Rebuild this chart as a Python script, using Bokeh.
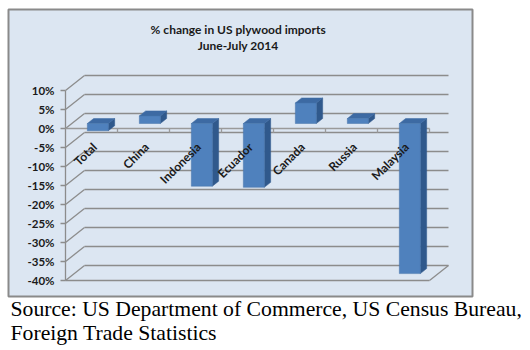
from bokeh.plotting import figure
from bokeh.models import Range1d
from bokeh.core.properties import value
from bokeh.embed import file_html
from bokeh.resources import INLINE

# ---------------- data ----------------
title_lines = ["% change in US plywood imports", "June-July 2014"]
categories = ["Total", "China", "Indonesia", "Ecuador", "Canada", "Russia", "Malaysia"]
pct_change = [-1.9, 2.0, -16.5, -16.8, 5.4, 1.3, -39.5]
y_ticks = [10, 5, 0, -5, -10, -15, -20, -25, -30, -35, -40]
y_tick_labels = ["10%", "5%", "0%", "-5%", "-10%", "-15%", "-20%", "-25%", "-30%", "-35%", "-40%"]
source_lines = ["Source: US Department of Commerce, US Census Bureau,",
                "Foreign Trade Statistics"]

# ---------------- 3D geometry (data units) ----------------
DX = 19 / 52.0      # depth offset along x (category units)
DY = 15 / 3.8       # depth offset along y (percent units)
HW = 0.202          # half bar width
F1, F2 = 1 / 3.0, 2 / 3.0   # bar depth span (fraction of wall depth)
N = len(categories)
Y_MIN, Y_MAX = min(y_ticks), max(y_ticks)

GRID = "#8C8C8C"
FRONT = "#4F81BD"
SIDE = "#30598C"
TOP = "#3D6AA3"
FONT = value("Lato")

p = figure(width=530, height=350,
           x_range=Range1d(-1.25, 8.9423), y_range=Range1d(-58.42, 33.684),
           output_backend="svg", toolbar_location=None, title=None,
           x_axis_location=None, y_axis_location=None,
           min_border=0, min_border_left=0, min_border_right=0,
           min_border_top=0, min_border_bottom=0,
           background_fill_color="white", border_fill_color="white",
           outline_line_color=None)
p.grid.visible = False

# chart box (plot area background)
p.quad(left=[-1.0962], right=[7.827], bottom=[-44.21], top=[31.316],
       fill_color="#DCE6F2", line_color="#8A8A8A", line_width=2)

# side wall diagonals + back wall gridlines
p.segment(x0=[0] * len(y_ticks), y0=y_ticks,
          x1=[DX] * len(y_ticks), y1=[t + DY for t in y_ticks],
          line_color=GRID, line_width=1.3)
p.segment(x0=[DX] * len(y_ticks), y0=[t + DY for t in y_ticks],
          x1=[N + DX] * len(y_ticks), y1=[t + DY for t in y_ticks],
          line_color=GRID, line_width=1.3)
# floor front edge and right edge
p.segment(x0=[0, N], y0=[Y_MIN, Y_MIN], x1=[N, N + DX], y1=[Y_MIN, Y_MIN + DY],
          line_color=GRID, line_width=1.3)
# value axis line + ticks
p.segment(x0=[0], y0=[Y_MIN], x1=[0], y1=[Y_MAX], line_color=GRID, line_width=1.3)
p.segment(x0=[-5 / 52.0] * len(y_ticks), y0=y_ticks, x1=[0] * len(y_ticks), y1=y_ticks,
          line_color=GRID, line_width=1.3)
# category axis line + ticks
p.segment(x0=[0], y0=[0], x1=[N], y1=[0], line_color="#9A9A9A", line_width=1.3)
p.segment(x0=list(range(1, N + 1)), y0=[0] * N, x1=list(range(1, N + 1)), y1=[-1.1] * N,
          line_color="#9A9A9A", line_width=1.3)

# bars
side_xs, side_ys, top_xs, top_ys = [], [], [], []
fl, fr, fb, ft = [], [], [], []
dd = (F2 - F1) * DX
for i, v in enumerate(pct_change):
    c = i + 0.5
    x0 = c - HW + F1 * DX
    x1 = c + HW + F1 * DX
    side_xs.append([x1, x1 + dd, x1 + dd, x1])
    side_ys.append([F1 * DY, F2 * DY, v + F2 * DY, v + F1 * DY])
    t = max(v, 0)
    top_xs.append([x0, x1, x1 + dd, x0 + dd])
    top_ys.append([t + F1 * DY, t + F1 * DY, t + F2 * DY, t + F2 * DY])
    fl.append(x0); fr.append(x1)
    fb.append(min(v, 0) + F1 * DY); ft.append(max(v, 0) + F1 * DY)

p.patches(side_xs, side_ys, fill_color=SIDE, line_color=SIDE, line_width=0.5)
p.patches(top_xs, top_ys, fill_color=TOP, line_color=TOP, line_width=0.5)
p.quad(left=fl, right=fr, bottom=fb, top=ft, fill_color=FRONT, line_color="#4674AA", line_width=0.5)

# value tick labels
p.text(x=[-0.2115] * len(y_ticks), y=y_ticks, text=y_tick_labels,
       text_align="right", text_baseline="middle", text_font=FONT,
       text_font_style="bold", text_font_size="11.5px", text_color="#1A1A1A")

# category labels (rotated)
p.text(x=[i + 0.56 for i in range(N)], y=[-4.3] * N, text=categories,
       angle=45, angle_units="deg", text_align="right", text_baseline="middle",
       text_font=FONT, text_font_style="bold", text_font_size="12px", text_color="#1A1A1A")

# chart title
p.text(x=[3.32, 3.32], y=[26.05, 21.84], text=title_lines,
       text_align="center", text_baseline="middle", text_font=FONT,
       text_font_style="bold", text_font_size="12px", text_color="#1A1A1A")

# source note below the chart box
p.text(x=[-1.0577, -1.0577], y=[-47.4, -53.8], text=source_lines,
       text_align="left", text_baseline="alphabetic",
       text_font=value("Liberation Serif"), text_font_size="21.7px", text_color="black")

open("out.html", "w").write(file_html(p, INLINE))
